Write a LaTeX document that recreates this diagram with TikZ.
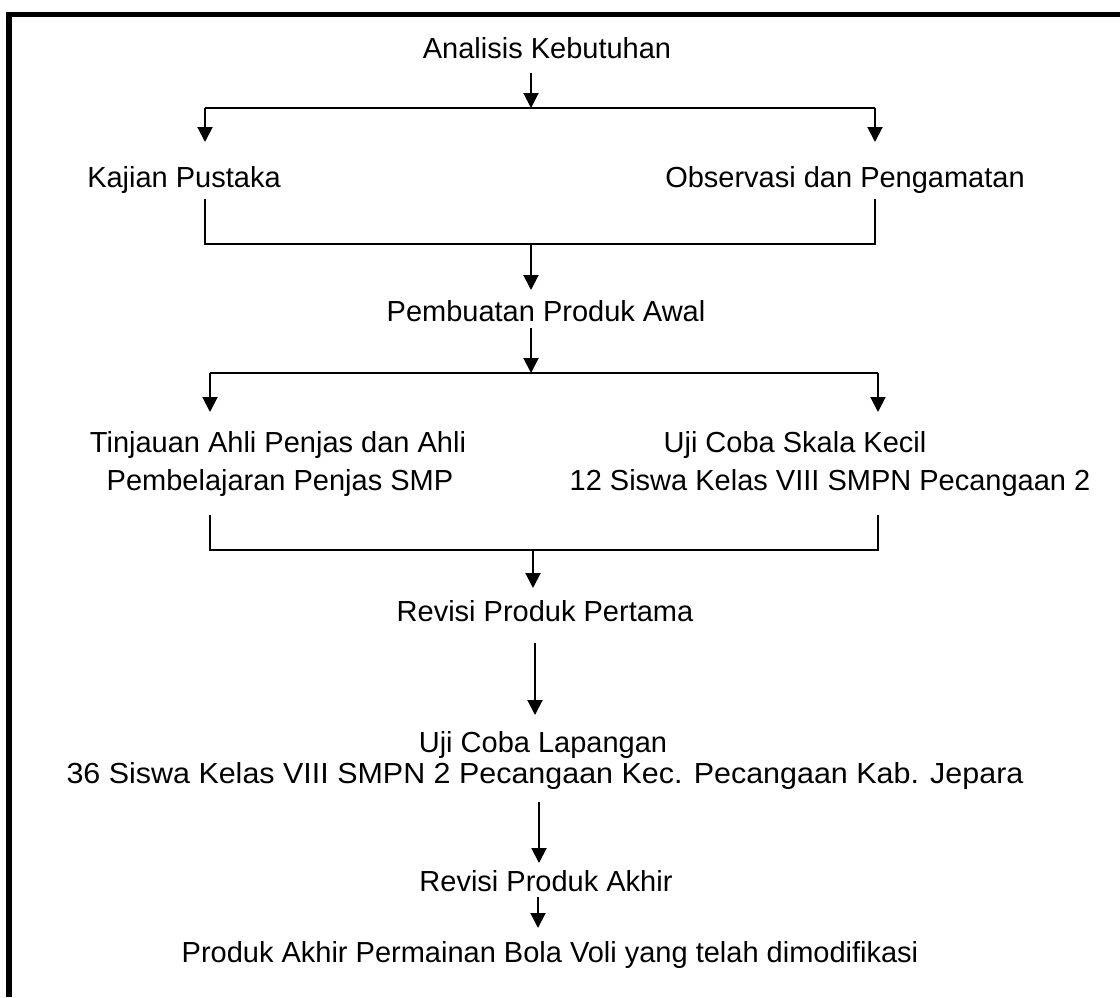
\documentclass[tikz,border=0pt]{standalone}
\usepackage{fontspec}
\usepackage{graphicx}
\setmainfont{Liberation Sans}
\usetikzlibrary{arrows.meta}
\begin{document}
\begin{tikzpicture}[x=0.5pt,y=-0.5pt,
  lbl/.style={inner sep=0pt,anchor=base,font=\fontsize{14.5pt}{17pt}\selectfont},
  conn/.style={line width=1pt},
  arr/.style={line width=1pt,-{Triangle[length=7.5pt,width=7.5pt]}},
  frame/.style={line width=2.8pt}]
\useasboundingbox (0,0) rectangle (1120,997);
% frame (top and left only)
\coordinate (ftl) at (9,14.5);
\coordinate (ftr) at (1120,14.5);
\coordinate (fbl) at (9,997);
\draw[frame] (fbl) -- (ftl) -- (ftr);

% texts
\node[lbl] (ak) at (547,58) {Analisis Kebutuhan};
\node[lbl] (kp) at (184,187) {Kajian Pustaka};
\node[lbl] (op) at (845,187) {Observasi dan Pengamatan};
\node[lbl] (pa) at (546,321) {Pembuatan Produk Awal};
\node[lbl] (ta1) at (278,452) {Tinjauan Ahli Penjas dan Ahli};
\node[lbl] (ta2) at (280,490) {Pembelajaran Penjas SMP};
\node[lbl] (uk1) at (795,452) {Uji Coba Skala Kecil};
\node[lbl] (uk2) at (830,490) {12 Siswa Kelas VIII SMPN Pecangaan 2};
\node[lbl] (rp) at (545,621) {Revisi Produk Pertama};
\node[lbl] (ul1) at (543,752) {Uji Coba Lapangan};
\node[lbl] (ul2) at (545,783) {\scalebox{1.05}[1]{36 Siswa Kelas VIII SMPN 2 Pecangaan Kec. Pecangaan Kab. Jepara}};
\node[lbl] (ra) at (546,891) {Revisi Produk Akhir};
\node[lbl] (pf) at (550,962) {Produk Akhir Permainan Bola Voli yang telah dimodifikasi};

% junction coordinates
\coordinate (a1s) at (531,73);
\coordinate (b1) at (531,108);
\coordinate (b1l) at (205,108);
\coordinate (b1r) at (875,108);
\coordinate (kpin) at (205,142);
\coordinate (opin) at (875,142);
\coordinate (kpout) at (205,199);
\coordinate (opout) at (875,199);
\coordinate (b2l) at (205,244);
\coordinate (b2r) at (875,244);
\coordinate (b2) at (531,244);
\coordinate (pain) at (531,290);
\coordinate (paout) at (531,328);
\coordinate (b3) at (531,373);
\coordinate (b3l) at (210,373);
\coordinate (b3r) at (878,373);
\coordinate (tain) at (210,412);
\coordinate (ukin) at (878,412);
\coordinate (taout) at (210,515);
\coordinate (ukout) at (878,515);
\coordinate (b4l) at (210,550);
\coordinate (b4r) at (878,550);
\coordinate (b4) at (533,550);
\coordinate (rpin) at (533,588);
\coordinate (rpout) at (535,643);
\coordinate (ulin) at (535,715);
\coordinate (ulout) at (539,802);
\coordinate (rain) at (539,863);
\coordinate (raout) at (538,897);
\coordinate (pfin) at (538,928);

% connectors
\draw[arr] (a1s) -- (b1);
\draw[conn] (b1l) -- (b1r);
\draw[arr] (b1l) -- (kpin);
\draw[arr] (b1r) -- (opin);
\draw[conn] (kpout) -- (b2l) -- (b2r) -- (opout);
\draw[arr] (b2) -- (pain);
\draw[arr] (paout) -- (b3);
\draw[conn] (b3l) -- (b3r);
\draw[arr] (b3l) -- (tain);
\draw[arr] (b3r) -- (ukin);
\draw[conn] (taout) -- (b4l) -- (b4r) -- (ukout);
\draw[arr] (b4) -- (rpin);
\draw[arr] (rpout) -- (ulin);
\draw[arr] (ulout) -- (rain);
\draw[arr] (raout) -- (pfin);
\end{tikzpicture}
\end{document}
